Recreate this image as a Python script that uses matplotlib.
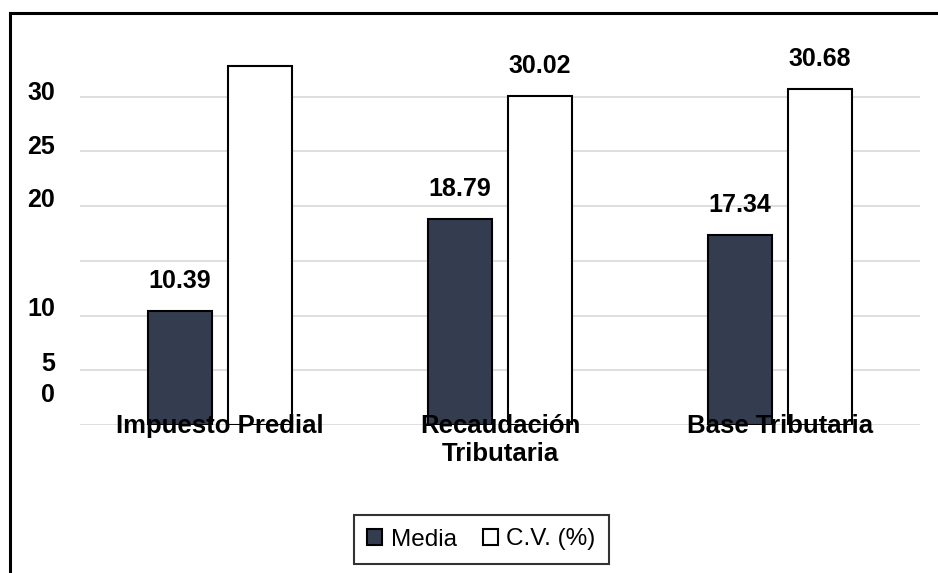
import matplotlib
matplotlib.use("Agg")
import matplotlib.pyplot as plt
import numpy as np
from matplotlib.transforms import ScaledTranslation
from matplotlib.lines import Line2D

plt.rcParams['font.family'] = ['Liberation Sans', 'DejaVu Sans']

categories = ["Impuesto Predial", "Recaudación\nTributaria", "Base Tributaria"]
media = [10.39, 18.79, 17.34]
cv = [32.8, 30.02, 30.68]
cv_labels = ["", "30.02", "30.68"]
media_labels = ["10.39", "18.79", "17.34"]
series_names = ["Media", "C.V. (%)"]
yticks = [0, 5, 10, 15, 20, 25, 30]
ytick_labels = ["0", "5", "10", "", "20", "25", "30"]

fig = plt.figure(figsize=(9.38, 5.73), dpi=100)
ax = fig.add_axes([80/938, 1-425/573, 840/938, (425-42)/573])

x = np.arange(len(categories))
w = 0.228
off = 0.143
b1 = ax.bar(x - off, media, w, color="#343d4f", edgecolor="black", linewidth=1.5,
            label=series_names[0], zorder=3)
b2 = ax.bar(x + off, cv, w, color="white", edgecolor="black", linewidth=1.5,
            label=series_names[1], zorder=3)

for bars, labels in ((b1, media_labels), (b2, cv_labels)):
    for rect, lab in zip(bars, labels):
        if lab:
            ax.annotate(lab, (rect.get_x() + rect.get_width()/2, rect.get_height()),
                        xytext=(0, 13), textcoords="offset points", ha="center", va="bottom",
                        fontsize=18, fontweight="bold")

ax.set_xlim(-0.5, 2.5)
ax.set_ylim(0, 35)
ax.set_yticks(yticks)
ax.set_yticklabels(ytick_labels, fontsize=18, fontweight="bold")
ax.yaxis.grid(True, color="#d9d9d9", linewidth=1.2)
ax.set_axisbelow(True)
for s in ax.spines.values():
    s.set_visible(False)
ax.tick_params(axis="y", length=0, pad=18)
ax.set_xticks(x)
ax.set_xticklabels(categories, fontsize=18.5, fontweight="bold", linespacing=1.2)
ax.tick_params(axis="x", length=0, pad=-8)
ax.xaxis.set_zorder(5)

dys = {"0": 32, "5": 9, "10": 9, "20": 9, "25": 7, "30": 6}
for lab, txt in zip(ax.get_yticklabels(), ytick_labels):
    if txt in dys:
        lab.set_transform(lab.get_transform() + ScaledTranslation(0, dys[txt]/100, fig.dpi_scale_trans))

leg = fig.legend(handles=[b1, b2], labels=series_names, loc="center",
                 bbox_to_anchor=(481.5/938, 1-539.5/573), ncol=2, frameon=True, fancybox=False,
                 edgecolor="black", fontsize=17.5, handlelength=0.6, handleheight=0.6,
                 handletextpad=0.35, columnspacing=1.1, borderpad=0.55)
leg.get_frame().set_linewidth(1.5)

# outer frame (top and left visible)
fig.add_artist(Line2D([10/938, 1.0], [1-13/573, 1-13/573], color="black", linewidth=2.2,
                      transform=fig.transFigure))
fig.add_artist(Line2D([10/938, 10/938], [0.0, 1-13/573], color="black", linewidth=2.2,
                      transform=fig.transFigure))

fig.savefig("out.png", dpi=100)
